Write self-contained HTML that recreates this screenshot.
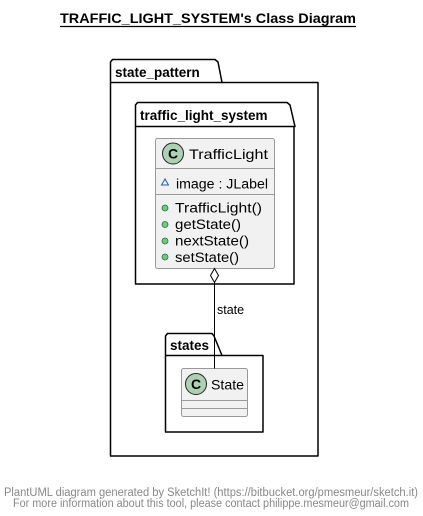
<!DOCTYPE html>
<html><head><meta charset="utf-8"><style>
html,body{margin:0;padding:0;background:#fff;}
svg{display:block;font-family:"Liberation Sans","DejaVu Sans",sans-serif;}
</style></head><body>
<svg width="423" height="516" viewBox="0 0 423 516" xmlns="http://www.w3.org/2000/svg">
<text x="208" y="23" text-anchor="middle" font-size="14" font-weight="bold" fill="#000" textLength="296" lengthAdjust="spacingAndGlyphs">TRAFFIC_LIGHT_SYSTEM's Class Diagram</text>
<line x1="60" y1="26.5" x2="356" y2="26.5" stroke="#000" stroke-width="1.3"/>

<!-- state_pattern -->
<path d="M112.5,59.5 L215,59.5 L218,62 L222,82.5 L318,82.5 L318,456 L110.5,456 L110.5,62 Z" fill="#fff" stroke="#000" stroke-width="1.5" stroke-linejoin="round"/>
<line x1="110.5" y1="82.5" x2="222" y2="82.5" stroke="#000" stroke-width="1.5"/>
<text x="115" y="77" font-size="13.5" font-weight="bold">state_pattern</text>

<!-- traffic_light_system -->
<path d="M137.5,102.5 L287,102.5 L290,105 L295,126.5 L294,126.5 L294,284 L135.5,284 L135.5,105 Z" fill="#fff" stroke="#000" stroke-width="1.5" stroke-linejoin="round"/>
<line x1="135.5" y1="126.5" x2="295" y2="126.5" stroke="#000" stroke-width="1.5"/>
<text x="140" y="120" font-size="13.5" font-weight="bold">traffic_light_system</text>

<!-- TrafficLight class -->
<rect x="155.5" y="138.5" width="119" height="130" rx="2" fill="#f1f1f1" stroke="#999" stroke-width="1"/>
<line x1="155.5" y1="168.5" x2="274.5" y2="168.5" stroke="#999"/>
<line x1="155.5" y1="194.5" x2="274.5" y2="194.5" stroke="#999"/>
<circle cx="173" cy="153.5" r="10.5" fill="#add1b2" stroke="#222" stroke-width="1"/>
<text x="173" y="158.5" text-anchor="middle" font-size="14" font-weight="bold">C</text>
<text x="189" y="159" font-size="14" textLength="79" lengthAdjust="spacingAndGlyphs">TrafficLight</text>
<path d="M161.5,185 L165,179 L168.5,185 Z" fill="none" stroke="#1a5fa8" stroke-width="1"/>
<text x="176" y="188.5" font-size="13.5" textLength="92" lengthAdjust="spacingAndGlyphs">image : JLabel</text>
<g fill="#84be84" stroke="#038048" stroke-width="0.8">
<circle cx="165" cy="208" r="3"/><circle cx="165" cy="224.5" r="3"/><circle cx="165" cy="241" r="3"/><circle cx="165" cy="257" r="3"/>
</g>
<g font-size="13.5">
<text x="175" y="212.5" textLength="87" lengthAdjust="spacingAndGlyphs">TrafficLight()</text>
<text x="175" y="229" textLength="66" lengthAdjust="spacingAndGlyphs">getState()</text>
<text x="175" y="245.5" textLength="74" lengthAdjust="spacingAndGlyphs">nextState()</text>
<text x="175" y="262" textLength="64" lengthAdjust="spacingAndGlyphs">setState()</text>
</g>

<!-- states package -->
<path d="M167.5,333.5 L212,333.5 L214,336 L222,355.5 L263,355.5 L263,432 L165.5,432 L165.5,336 Z" fill="#fff" stroke="#000" stroke-width="1.5" stroke-linejoin="round"/>
<line x1="165.5" y1="355.5" x2="222" y2="355.5" stroke="#000" stroke-width="1.5"/>
<text x="170" y="350" font-size="13.5" font-weight="bold">states</text>

<!-- State class -->
<rect x="181.5" y="368.5" width="66" height="48" rx="2" fill="#f1f1f1" stroke="#999" stroke-width="1"/>
<line x1="181.5" y1="400.5" x2="247.5" y2="400.5" stroke="#999"/>
<line x1="181.5" y1="408.5" x2="247.5" y2="408.5" stroke="#999"/>
<circle cx="196" cy="384" r="10.5" fill="#add1b2" stroke="#222" stroke-width="1"/>
<text x="196" y="389" text-anchor="middle" font-size="14" font-weight="bold">C</text>
<text x="211" y="389.5" font-size="14" textLength="33" lengthAdjust="spacingAndGlyphs">State</text>

<!-- association -->
<line x1="214.5" y1="283" x2="214.5" y2="368.5" stroke="#000" stroke-width="1"/>
<path d="M214.5,268.5 L218.5,275.5 L214.5,282.5 L210.5,275.5 Z" fill="#fff" stroke="#000" stroke-width="1"/>
<text x="217" y="314" font-size="12.5">state</text>

<g font-size="11.5" fill="#888" text-anchor="middle">
<text x="211" y="496" textLength="414" lengthAdjust="spacingAndGlyphs">PlantUML diagram generated by SketchIt! (https://bitbucket.org/pmesmeur/sketch.it)</text>
<text x="211" y="507" textLength="396" lengthAdjust="spacingAndGlyphs">For more information about this tool, please contact philippe.mesmeur@gmail.com</text>
</g>
</svg>
</body></html>
